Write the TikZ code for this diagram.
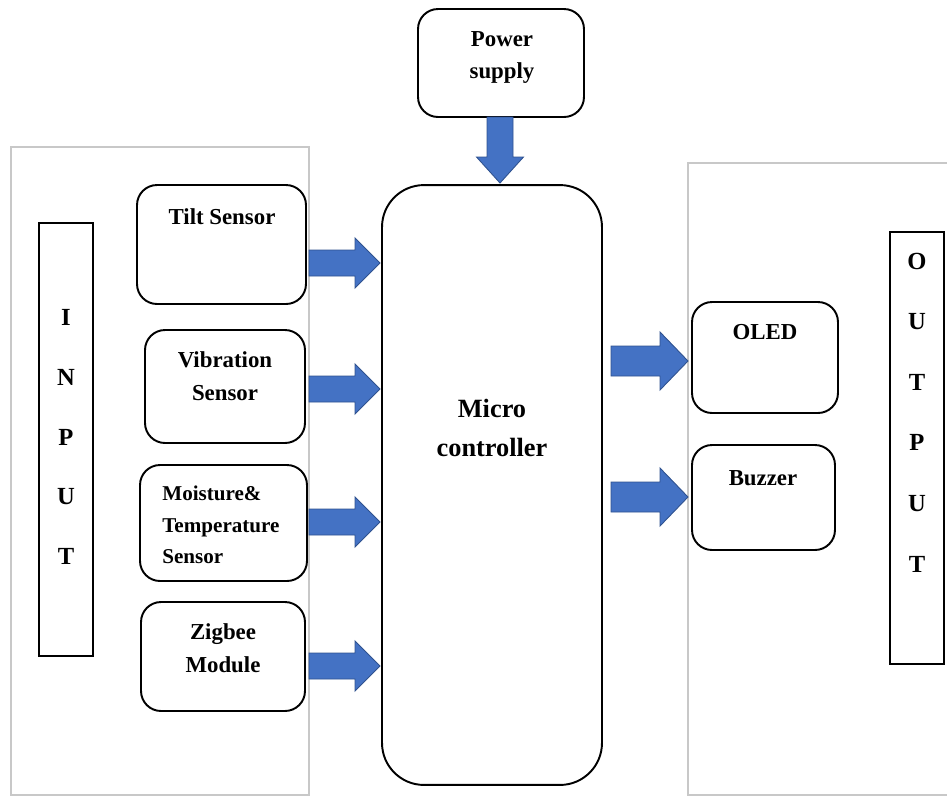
\documentclass[tikz,border=0pt]{standalone}
\usepackage{fontspec}
\setmainfont{Liberation Serif}
\usetikzlibrary{calc}

\definecolor{arrowfill}{HTML}{4472C4}
\definecolor{arrowedge}{HTML}{2F528F}
\definecolor{panelgray}{HTML}{C8C8C8}

\tikzset{
  blk/.style={draw, line width=1.1pt, rounded corners=0.4cm, inner sep=0pt},
  bar/.style={draw, line width=0.9pt, inner sep=0pt},
  lbl/.style={font=\bfseries\fontsize{13}{18.7}\selectfont, align=center, inner sep=0pt},
  panel/.style={draw=panelgray, line width=0.6pt},
  arrowblock/.style={fill=arrowfill, draw=arrowedge, line width=0.5pt, line join=miter},
  % block arrow: length, head length, shaft half width, head half width
  pics/fat/.style n args={4}{code={
    \path[arrowblock] (0,-#3) -- ({#1-#2},-#3) -- ({#1-#2},-#4) -- (#1,0)
      -- ({#1-#2},#4) -- ({#1-#2},#3) -- (0,#3) -- cycle;
  }}
}

\begin{document}
\begin{tikzpicture}[x=0.02cm, y=-0.02cm]

\useasboundingbox (0,0) rectangle (947,796);

% ----------------------------
% PANELS
% ----------------------------
\draw[panel] (11,147) rectangle (309,795);
\draw[panel] (960,163) -- (688,163) -- (688,795) -- (960,795);

% ----------------------------
% INPUT / OUTPUT BARS
% ----------------------------
\node[bar, minimum width=1.08cm, minimum height=8.66cm] (inbar) at (66,439.5) {};
\node[lbl, font=\bfseries\fontsize{14}{34}\selectfont] (intxt) at (66,437) {I\\N\\P\\U\\T};

\node[bar, minimum width=1.08cm, minimum height=8.64cm] (outbar) at (917,448) {};
\node[lbl, font=\bfseries\fontsize{14}{34.5}\selectfont] (outtxt) at (917,412.5) {O\\U\\T\\P\\U\\T};

% ----------------------------
% SENSORS
% ----------------------------
\node[blk, minimum width=3.38cm, minimum height=2.38cm] (tilt) at (221.5,244.5) {};
\node[lbl] (tilttxt) at (222,217) {Tilt Sensor};

\node[blk, minimum width=3.2cm, minimum height=2.26cm] (vib) at (225,386.5) {};
\node[lbl] (vibtxt) at (225,376.5) {Vibration\\Sensor};

\node[blk, minimum width=3.34cm, minimum height=2.32cm] (moist) at (223.5,523) {};
\node[lbl, anchor=west, align=left, font=\bfseries\fontsize{12}{18}\selectfont] (moisttxt) at (162,525)
  {Moisture\&\\Temperature\\Sensor};

\node[blk, minimum width=3.28cm, minimum height=2.18cm] (zig) at (223,656.5) {};
\node[lbl] (zigtxt) at (223,648) {Zigbee\\Module};

% ----------------------------
% POWER AND CONTROLLER
% ----------------------------
\node[blk, minimum width=3.32cm, minimum height=2.16cm] (power) at (501,63) {};
\node[lbl] (powertxt) at (502,57.5) {Power\\supply};

\node[blk, rounded corners=0.84cm, minimum width=4.4cm, minimum height=12cm] (mcu) at (492,485) {};
\node[lbl, font=\bfseries\fontsize{15}{22.7}\selectfont] (mcutxt) at (492,428) {Micro\\controller};

% ----------------------------
% OUTPUTS
% ----------------------------
\node[blk, minimum width=2.92cm, minimum height=2.22cm] (oled) at (765,357.5) {};
\node[lbl] (oledtxt) at (765,332) {OLED};

\node[blk, minimum width=2.86cm, minimum height=2.1cm] (buzz) at (763.5,497.5) {};
\node[lbl] (buzztxt) at (763,478) {Buzzer};

% ----------------------------
% BLOCK ARROWS
% ----------------------------
\foreach \ay in {263,389,522,666}
  \pic at (309,\ay) {fat={71}{25}{13}{25}};

\foreach \ay in {361,497}
  \pic at (611,\ay) {fat={77}{28}{15}{29}};

\pic[rotate=-90] at (500,117) {fat={66}{26}{13}{23.5}};

\end{tikzpicture}
\end{document}
